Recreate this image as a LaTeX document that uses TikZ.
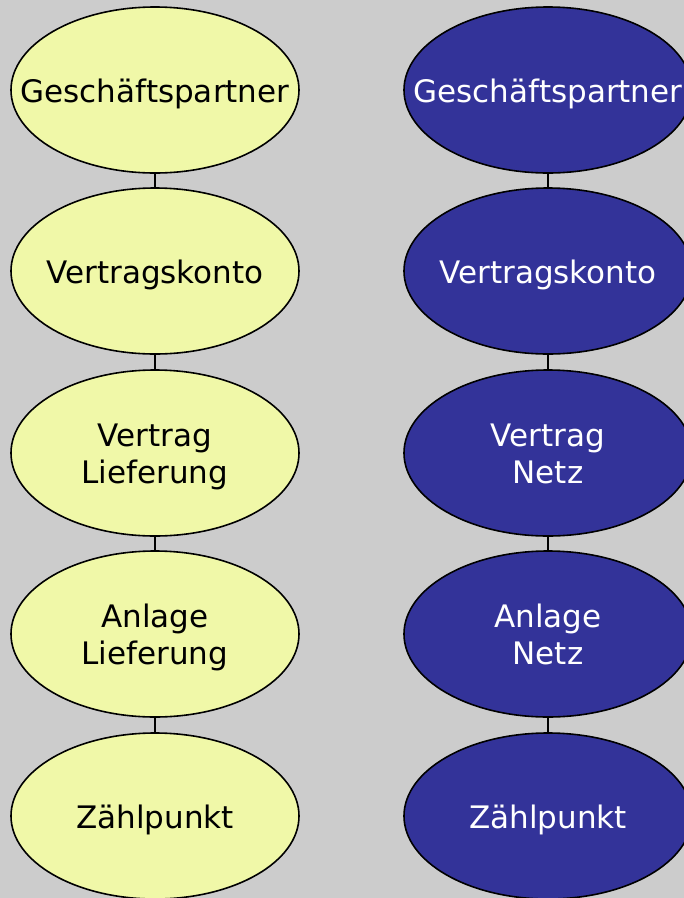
\documentclass[tikz,border=0pt]{standalone}
\usepackage{fontspec}
\setmainfont{DejaVu Sans}
\usetikzlibrary{shapes.geometric}
\definecolor{bgc}{RGB}{204,204,204}
\definecolor{yel}{RGB}{240,248,168}
\definecolor{blu}{RGB}{51,51,153}
\newcommand{\cbox}[1]{\begin{tabular}{@{}c@{}}#1\end{tabular}}
\tikzset{
  ent/.style={ellipse, draw=black, line width=1.6pt, minimum width=288pt, minimum height=166pt, inner sep=0pt},
  lab/.style={inner sep=0pt, yshift=-5pt, font=\fontsize{31}{37}\selectfont},
  yent/.style={ent, fill=yel, label={[lab, text=black]center:\cbox{#1}}},
  bent/.style={ent, fill=blu, label={[lab, text=white]center:\cbox{#1}}},
  link/.style={draw=black, line width=1.3pt}
}
\begin{document}
\begin{tikzpicture}[x=1pt,y=-1pt]
\fill[bgc] (0,0) rectangle (684,898);
\useasboundingbox (0,0) rectangle (684,898);
\node[yent={Geschäftspartner}] (l1) at (155,90) {};
\node[yent={Vertragskonto}] (l2) at (155,271) {};
\node[yent={Vertrag\\Lieferung}] (l3) at (155,453) {};
\node[yent={Anlage\\Lieferung}] (l4) at (155,634) {};
\node[yent={Zählpunkt}] (l5) at (155,816) {};
\node[bent={Geschäftspartner}] (r1) at (548,90) {};
\node[bent={Vertragskonto}] (r2) at (548,271) {};
\node[bent={Vertrag\\Netz}] (r3) at (548,453) {};
\node[bent={Anlage\\Netz}] (r4) at (548,634) {};
\node[bent={Zählpunkt}] (r5) at (548,816) {};
\foreach \a/\b in {l1/l2,l2/l3,l3/l4,l4/l5,r1/r2,r2/r3,r3/r4,r4/r5}
  \draw[link] (\a.south) -- (\b.north);
\end{tikzpicture}
\end{document}
